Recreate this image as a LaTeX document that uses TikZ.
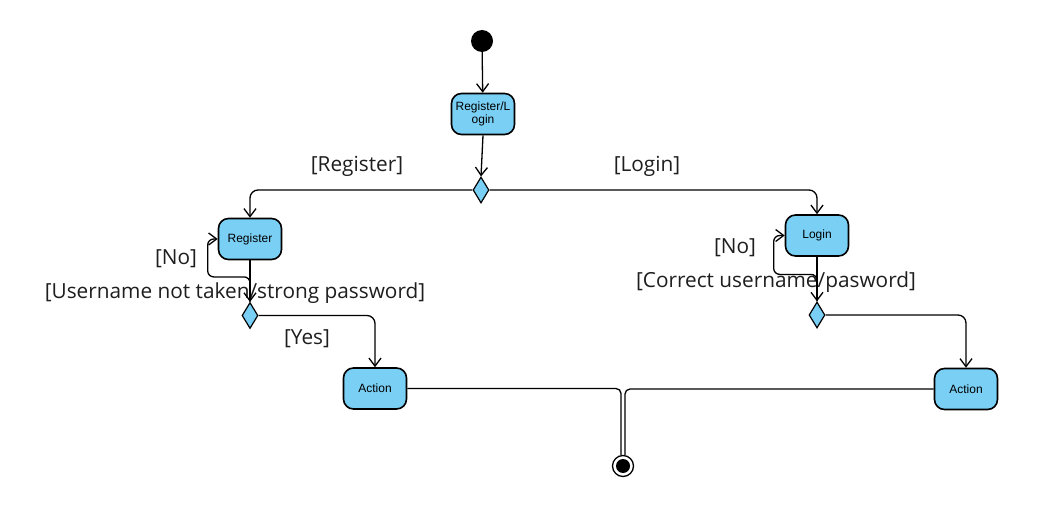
\documentclass[tikz,border=0pt]{standalone}
\usepackage{fontspec}
\setmainfont{Open Sans}
\newfontfamily\boxfont{Liberation Sans}
\usetikzlibrary{shapes.geometric,arrows.meta,calc}
\definecolor{actblue}{RGB}{122,207,245}
\definecolor{lbl}{RGB}{30,30,30}
\tikzset{
  act/.style={draw=black, line width=1.6pt, fill=actblue, rounded corners=10pt,
    minimum width=63pt, minimum height=41pt, inner sep=1pt, align=center,
    font=\boxfont\fontsize{12}{13.5}\selectfont},
  dec/.style={draw=black, line width=1.2pt, fill=actblue, diamond, inner sep=0pt,
    minimum width=16pt, minimum height=26pt},
  conn/.style={draw=black, line width=1.3pt},
  arr/.style={conn, -{Straight Barb[length=8pt,width=12pt,line width=1.3pt]}},
  lab/.style={text=lbl, font=\fontsize{20.8}{24}\selectfont, inner sep=0pt},
}
\begin{document}
\begin{tikzpicture}[x=1pt,y=-1pt]
\useasboundingbox (0,0) rectangle (1055,505);
\node[circle, fill=black, minimum size=22pt, inner sep=0pt] (init) at (482,41) {};
\node[act] (rl) at (483,114) {Register/L\\ogin};
\node[dec] (d1) at (481,190) {};
\node[act] (reg) at (250,239) {Register};
\node[act] (login) at (817,235.5) {Login};
\node[dec] (d2) at (250,315.5) {};
\node[dec] (d3) at (817,315) {};
\node[act] (act1) at (375,388.5) {Action};
\node[act] (act2) at (966,389) {Action};
\node[circle, draw=black, line width=1.3pt, minimum size=21pt, inner sep=0pt] (fin) at (623,466) {};
\node[circle, fill=black, minimum size=14pt, inner sep=0pt] (finin) at (fin.center) {};

\node[lab] (lreg) at (357,166) {[Register]};
\node[lab] (llog) at (647,166) {[Login]};
\node[lab] (lno1) at (176,259) {[No]};
\node[lab] (lun) at (235,293) {[Username not taken/strong password]};
\node[lab] (lyes) at (307,339) {[Yes]};
\node[lab] (lno2) at (735,248) {[No]};
\node[lab] (lcor) at (776,282) {[Correct username/pasword]};

\draw[arr] (init) -- (rl);
\draw[arr] (rl.south) -- (d1.north);
\draw[arr, rounded corners=8pt] (d1.west) -| (reg.north);
\draw[arr, rounded corners=8pt] (d1.east) -| (login.north);
\draw[arr] (reg.south) -- (d2.north);
\draw[arr, rounded corners=6pt] (d2.north) -- ++(0,-25) -| ([xshift=-10pt]reg.west) -- (reg.west);
\draw[arr] (login.south) -- (d3.north);
\draw[arr, rounded corners=6pt] (d3.north) -- ++(0,-27) -| ([xshift=-11pt]login.west) -- (login.west);
\draw[arr, rounded corners=8pt] (d2.east) -| (act1.north);
\draw[arr, rounded corners=8pt] (d3.east) -| (act2.north);
\draw[conn, rounded corners=5pt] (act1.east) -| ([xshift=-2pt]fin.north);
\draw[conn, rounded corners=5pt] (act2.west) -| ([xshift=2pt]fin.north);
\end{tikzpicture}
\end{document}
